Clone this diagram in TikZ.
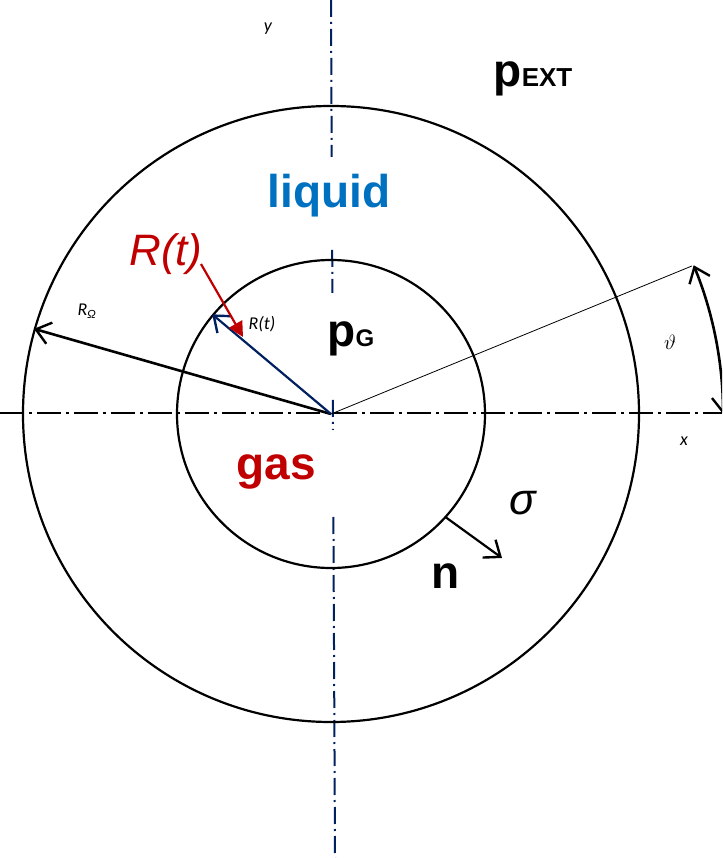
\documentclass[tikz,border=0pt]{standalone}
\usepackage{fontspec}
\setmainfont{Liberation Sans}
\newfontfamily\lblfont{Carlito}
\usepackage{tikz}
\usetikzlibrary{arrows.meta,positioning,calc}

\definecolor{axisblue}{RGB}{0,32,96}
\definecolor{gasred}{RGB}{192,0,0}
\definecolor{liqblue}{RGB}{0,112,192}

\begin{document}
\begin{tikzpicture}[
  x=1pt, y=1pt,
  >={Straight Barb[length=14pt,width=22pt,line width=2.4pt]},
  ring/.style={draw, line width=2.2pt},
  xaxis/.style={line width=1.6pt, dash pattern=on 24pt off 5pt on 3pt off 5pt},
  yaxis/.style={axisblue, line width=2pt, dash pattern=on 17pt off 5pt on 2pt off 5pt},
  big/.style={font=\fontsize{46}{46}\selectfont\bfseries, inner sep=0pt},
  small/.style={font=\lblfont\itshape\fontsize{18}{18}\selectfont, inner sep=0pt}
]
\useasboundingbox (-331,-444) rectangle (391,414);
\clip (-331,-444) rectangle (391,414);

\coordinate (O) at (0,0);

% axes
\draw[xaxis] (-331,1) -- (391,1);
\draw[yaxis] (0,414) -- (0.7,257);
\draw[yaxis] (1.2,164) -- (1.4,121);
\draw[yaxis] (1.9,14) -- (2.0,-16);
\draw[yaxis] (2.4,-103) -- (4,-444);

% bubble and liquid shell
\draw[ring] (O) circle (308);
\draw[ring] (O) circle (154);

\coordinate (Rout) at (164:309);
\coordinate (Rin)  at (140:155);
\coordinate (Th)   at (22.3:390);
\coordinate (Nb)   at (-42:154);
\coordinate (Ne)   at (171,-144);

% radii
\draw[->, line width=2.6pt] (O) -- (Rout);
\draw[->, axisblue, line width=2.2pt] (O) -- (Rin);
\draw[line width=0.8pt] (O) -- (Th);
\draw[<->, line width=2.6pt] (392,0) arc[start angle=0, end angle=22.3, radius=392];
\draw[->, line width=2.2pt] (Nb) -- (Ne);

% labels
\node[big, font=\fontsize{44}{44}\selectfont\itshape, text=gasred] (Rt) at (-165,160) {R(t)};
\draw[-{Triangle[length=15pt,width=15pt]}, gasred, line width=2.2pt] (-130,150) -- (-88,77);

\node[big] (pext) at (202,335) {p{\fontsize{26}{26}\selectfont EXT}};
\node[big, text=liqblue] (liq) at (-2,218) {liquid};
\node[big] (pg) at (20,75) {p{\fontsize{24}{24}\selectfont G}};
\node[big, text=gasred] (gas) at (-55,-58) {gas};
\node[big, font=\fontsize{44}{44}\selectfont\itshape] (sig) at (192,-89) {σ};
\node[big] (n) at (115,-162) {n};

\node[small] (rtl) at (-69,90) {R(t)};
\node[small] (rom) at (-244,103) {R\textsubscript{Ω}};
\node[small] (ylab) at (-63,385) {y};
\node[small] (xlab) at (353,-27) {x};
\node[small, font=\fontsize{22}{22}\selectfont] (th) at (339,72) {$\vartheta$};
\end{tikzpicture}
\end{document}
